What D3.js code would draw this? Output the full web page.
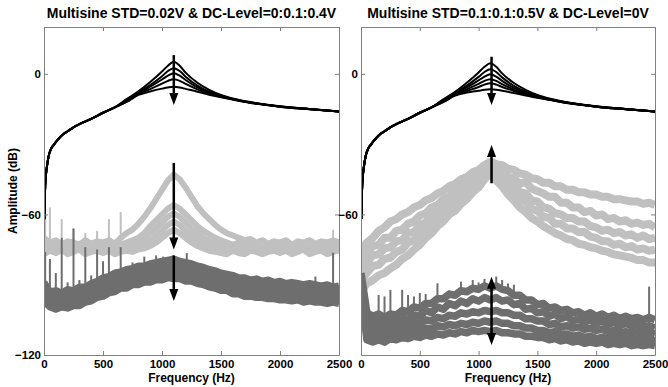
<!DOCTYPE html>
<html>
<head>
<meta charset="utf-8">
<script src="https://cdn.jsdelivr.net/npm/d3@7"></script>
<style>
  body { margin: 0; background: #fff; }
  text { font-family: "Liberation Sans", Arial, sans-serif; font-weight: bold; }
</style>
</head>
<body>
<div id="chart"></div>
<script>
// frequency grid of the measured spectra (Hz)
const freq = [0,50,100,150,200,250,300,350,400,450,500,550,600,650,700,750,800,850,900,950,
  1000,1050,1100,1150,1200,1250,1300,1350,1400,1450,1500,1550,1600,1650,1700,1750,1800,1850,1900,1950,
  2000,2050,2100,2150,2200,2250,2300,2350,2400,2450,2500];

// frequency grid of the model (black) curves
const blackFreq = [3,6,10,15,25,40,60,80,110,150,200,250,300,400,500,600,
  700,800,900,1000,1050,1100,1150,1200,1300,1400,1500,1600,1800,2000,2250,2500];
const blackLow = [-62,-54,-48,-44,-39.5,-35,-32,-30.5,-28.5,-26.3,-24.5,-22.8,-21.5,-19.2,-16.6,-14.3];

const leftBlack = [
  [...blackLow, -10.8,-7.5,-3.5,1,3.5,5.2,3.5,0.5,-3.8,-6.8,-9,-10.5,-12.5,-13.8,-15,-16.1],
  [...blackLow, -11.2,-8,-4.8,-1,1.2,2.4,1.2,-1.2,-5,-7.6,-9.4,-10.7,-12.6,-13.9,-15,-16.1],
  [...blackLow, -11.5,-8.4,-5.5,-2.4,-0.8,0.3,-0.8,-2.6,-5.8,-8,-9.6,-10.8,-12.7,-13.9,-15,-16.1],
  [...blackLow, -11.8,-8.7,-6.5,-4.2,-3,-2.3,-3,-4.3,-6.6,-8.5,-9.8,-10.9,-12.7,-14,-15.1,-16.1],
  [...blackLow, -12,-9,-7.5,-6.3,-5.8,-5.5,-5.8,-6.4,-7.6,-8.9,-10,-11,-12.8,-14,-15.1,-16.1]
];
const rightBlack = [
  [...blackLow, -10.9,-7.7,-3.8,0.6,3,4.5,3,0.2,-3.9,-6.8,-9,-10.5,-12.5,-13.8,-15,-16.1],
  [...blackLow, -11.2,-8.1,-5,-1.3,0.8,2,0.8,-1.5,-5.1,-7.6,-9.4,-10.7,-12.6,-13.9,-15,-16.1],
  [...blackLow, -11.5,-8.4,-5.8,-2.8,-1.2,-0.2,-1.2,-3,-6,-8.1,-9.6,-10.8,-12.7,-13.9,-15,-16.1],
  [...blackLow, -11.7,-8.7,-6.6,-4.3,-3,-2.3,-3,-4.4,-6.7,-8.5,-9.8,-10.9,-12.7,-14,-15.1,-16.1],
  [...blackLow, -11.9,-9,-7.3,-5.6,-4.6,-4,-4.6,-5.6,-7.3,-8.8,-10,-11,-12.8,-14,-15.1,-16.1],
  [...blackLow, -12.1,-9.3,-8,-7.2,-6.8,-6.6,-6.8,-7.2,-8.2,-9.2,-10.2,-11.1,-12.8,-14,-15.1,-16.1]
];

// left panel, light grey spectra (one per DC level)
const leftLight = [
  [-70,-72,-71,-73,-71.5,-72,-73,-71,-72.5,-71.5, -72,-71,-72.5,-70,-68,-66.5,-64,-61,-57.5,-53.5,
   -49.5,-45.5,-43,-45,-48.5,-52.5,-56.5,-59.5,-62,-64.5, -66.5,-68,-69,-70,-71,-70.5,-72,-71,-72.5,-71.5,
   -72,-71,-73,-71.5,-72,-71,-72.5,-71.5,-72,-71,-72],
  [-74,-72.5,-73.5,-72,-74,-73,-72.5,-74,-73,-72, -73.5,-72.5,-74,-73,-72,-71,-70,-68,-65,-62.5,
   -60,-57.5,-56,-57.5,-60,-62.5,-65,-67,-68.5,-70, -71,-72,-73,-72,-73.5,-72.5,-73,-74,-72.5,-73.5,
   -73,-72,-74,-73,-72.5,-74,-73,-72,-73.5,-73,-72.5],
  [-75,-73.5,-74.5,-73,-75,-74,-73,-75,-74,-73.5, -74.5,-73.5,-75,-74,-73.5,-73,-72,-70.5,-68,-66,
   -63.5,-61,-59.5,-61,-63.5,-66,-68,-70,-71.5,-72.5, -73.5,-74.5,-73.5,-75,-74,-73.5,-75,-74,-73,-74.5,
   -74,-73,-75,-74,-73.5,-75,-74,-73,-74.5,-74,-73.5],
  [-76,-74.5,-75.5,-74,-76,-75,-74,-76,-75,-74.5, -75.5,-74.5,-76,-75,-74.5,-75,-74,-73,-71.5,-69,
   -67,-64.5,-63,-64.5,-67,-69,-71,-72.5,-73.5,-74.5, -75,-76,-74.5,-75.5,-76,-74.5,-75,-76,-75,-74.5,
   -75.5,-74.5,-76,-75,-74,-76,-75,-74.5,-76,-75,-74.5],
  [-77,-75.5,-76.5,-75,-77,-76,-75,-77,-76,-75.5, -76.5,-75.5,-77,-76,-75.5,-76,-75,-74.5,-73.5,-72,
   -70,-68,-66.5,-68,-70,-72,-73.5,-74.5,-75.5,-76, -76.5,-77,-75.5,-76.5,-77,-75.5,-76,-77,-76,-75.5,
   -76.5,-75.5,-77,-76,-75,-77,-76,-75.5,-77,-76,-75.5]
];

// left panel, dark grey spectra
const leftDark = [
  [-89,-93,-92.5,-93.5,-92,-92.5,-91,-91,-89.5,-88.5, -87,-86.5,-85,-84.5,-83.5,-83,-82,-82,-81,-80.5,
   -80,-79.5,-79,-80,-80.5,-81,-82,-82.5,-83.5,-84, -85,-85.5,-86,-87,-87,-88,-87.5,-88.5,-88,-89,
   -88.5,-89.5,-89,-89.5,-90,-89.5,-90,-90.5,-90,-91,-90.5],
  [-91,-95,-94.5,-95.5,-94,-94.5,-93,-93,-91.5,-91, -89,-89,-87,-87,-85.5,-85.5,-84,-84.5,-83,-83.5,
   -82,-82.5,-81.5,-82.5,-82.5,-84,-83.5,-85.5,-85,-87, -86.5,-88,-88,-89.5,-89,-90.5,-89.5,-91,-90,-91.5,
   -90.5,-92,-91,-92,-91.5,-92.5,-91.5,-93,-92,-93,-92],
  [-93,-96.5,-96,-97,-95.5,-96,-94.5,-94.5,-92.5,-92.5, -90.5,-90.5,-88.5,-88.5,-87,-87,-85.5,-86,-84.5,-85,
   -83.5,-84,-83,-84,-84,-85,-85,-87,-86.5,-88.5, -88,-89.5,-89.5,-91,-90.5,-92,-91,-92.5,-91.5,-93,
   -92,-93.5,-92.5,-93.5,-93,-94,-93,-94.5,-93.5,-94.5,-93.5],
  [-95,-98,-97.5,-98.5,-97,-97.5,-96,-96,-94.5,-94, -92,-92,-90,-90,-88.5,-88.5,-87,-87.5,-86,-86.5,
   -85,-85.5,-84.5,-85.5,-85.5,-87,-86.5,-88.5,-88,-90, -89.5,-91,-91,-92.5,-92,-93.5,-92.5,-94,-93,-94.5,
   -93.5,-95,-94,-95,-94.5,-95.5,-94.5,-96,-95,-96,-95],
  [-97,-99.5,-100.5,-99.5,-100,-99,-99,-97.5,-97,-95.5, -95,-93.5,-93,-91.5,-91.5,-90,-90,-89,-89,-88,
   -88,-87,-87.5,-87.5,-88.5,-88.5,-89.5,-90,-91,-91.5, -92.5,-92.5,-94,-94,-95,-95,-95.5,-95.5,-96,-96,
   -96.5,-96.5,-97,-96.5,-97.5,-97,-97.5,-97.5,-98,-97.5,-98]
];

// right panel, light grey spectra (one per multisine STD)
const rightLight = [
  [-76,-72,-70,-67,-65.5,-63,-62,-60,-59,-57, -56,-54,-53,-51,-50,-48,-47,-45,-44,-42,
   -41,-39,-37.5,-38.5,-39,-40.5,-41,-42.5,-43,-44.5, -45,-46.5,-46.5,-48,-48,-49.5,-49.5,-50.5,-50.5,-51.5,
   -51.5,-52.5,-52.5,-53.5,-53.5,-54,-54.5,-54.5,-55.5,-55,-56],
  [-80,-76.5,-73.5,-73,-70,-70,-67,-66.5,-64,-63, -60.5,-59.5,-57,-56,-53.5,-52.5,-50,-49,-46.5,-45.5,
   -43,-41.5,-39,-41,-41.5,-44,-44.5,-47,-46,-49, -50,-51,-52.5,-52.5,-55,-55,-57,-57,-59,-58.5,
   -60.5,-60,-62,-61.5,-63,-62.5,-64,-63.5,-64.5,-64,-65.5],
  [-84,-80.5,-77.5,-77,-74.5,-74,-71.5,-71,-68,-67.5, -64.5,-63.5,-60.5,-59.5,-56.5,-55.5,-52.5,-51.5,-48.5,-47.5,
   -44.5,-43,-40,-42.5,-43.5,-46.5,-47.5,-50.5,-51,-54, -54.5,-57,-57.5,-59.5,-60,-61.5,-61.5,-63,-63,-65,
   -65.5,-67,-66.5,-68,-67.5,-69,-68.5,-70,-69,-70.5,-70],
  [-88,-85,-82,-81.5,-79,-78.5,-76,-75,-72,-71, -68,-67,-63.5,-62.5,-59,-58,-54.5,-53.5,-50,-49,
   -45.5,-44,-41,-44,-45.5,-49,-50.5,-53.5,-54.5,-57.5, -58.5,-61,-61.5,-64,-64,-66,-66,-67.5,-67.5,-69.5,
   -70,-71.5,-71.5,-73,-72.5,-74,-73.5,-75,-74.5,-75.5,-75],
  [-93,-89.5,-88,-86,-85,-83,-81.5,-79,-77.5,-75, -73,-70,-68,-65,-63,-60,-58.5,-55.5,-53.5,-50.5,
   -48.5,-45,-42.5,-45.5,-48,-51.5,-54,-57,-59,-61.5, -63,-65,-66.5,-68,-69,-70.5,-71,-72.5,-73,-74,
   -74.5,-75.5,-76,-77,-77.5,-78,-78.5,-79.5,-79.5,-80.5,-80.5]
];

// right panel, dark grey spectra
const rightDark = [
  [-85,-102,-103.5,-102.5,-104,-102.5,-103,-101,-101.5,-99.5, -100,-98,-98,-96,-96,-94,-94.5,-92.5,-93,-91.5,
   -92,-90.5,-91.5,-90.5,-92,-92.5,-94.5,-94.5,-96.5,-96.5, -98.5,-98,-100,-99.5,-101,-100.5,-102,-101.5,-103,-102,
   -103.5,-102.5,-104,-103,-104.5,-103.5,-104.5,-104,-105,-104,-105],
  [-87,-105.5,-106.5,-105.5,-107,-105.5,-106,-104,-105,-103, -103.5,-101,-102,-99.5,-100.5,-98,-99,-97,-98,-96,
   -97,-95.5,-96.5,-95.5,-97,-96.5,-98.5,-98,-100.5,-100, -102,-101.5,-103.5,-102.5,-104.5,-103.5,-105.5,-104.5,-106,-105,
   -106.5,-105.5,-107,-106,-107.5,-106.5,-107.5,-107,-108,-107.5,-108.5],
  [-88,-108.5,-109.5,-108.5,-109.5,-108,-108.5,-107,-107.5,-106, -106.5,-105,-105.5,-104,-104.5,-103,-103.5,-102,-102.5,-101.5,
   -102,-101,-101.5,-101,-102,-102,-103,-103,-104.5,-104.5, -105.5,-105.5,-107,-106.5,-108,-107.5,-108.5,-108,-109,-108.5,
   -109.5,-109,-110,-109.5,-110.5,-110,-110.5,-110,-111,-110.5,-111],
  [-89,-111,-112,-111,-112,-110.5,-111,-110,-110.5,-109, -109.5,-108.5,-109,-107.5,-108,-107,-107.5,-106.5,-107,-106,
   -106.5,-105.5,-106,-105.5,-106.5,-106.5,-107.5,-107.5,-108.5,-108.5, -109.5,-109.5,-110.5,-110,-111,-111,-112,-111.5,-112.5,-112,
   -113,-112.5,-113,-112.5,-113.5,-113,-113.5,-113,-114,-113.5,-114],
  [-90,-113.5,-114.5,-113.5,-114.5,-113,-113.5,-112.5,-113,-112, -112.5,-111.5,-112,-111,-111.5,-110.5,-111,-110,-110.5,-109.5,
   -110,-109.5,-110,-109.5,-110.5,-110.5,-111,-111,-112,-112, -112.5,-112.5,-113.5,-113,-114,-113.5,-114.5,-114,-115,-114.5,
   -115,-114.5,-115.5,-115,-115.5,-115,-116,-115.5,-116,-115.5,-116]
];

// harmonic spikes: [frequency, top dB, bottom dB]
const leftLightSpikes = [[10,-56,-72],[50,-57,-72],[150,-62,-72],[250,-66,-72],[350,-68,-72],[450,-67,-72],
  [550,-62,-72],[650,-59,-72],[2450,-66.5,-72]];
const leftDarkSpikes = [[10,-76,-93],[50,-79,-93],[100,-85,-94],[150,-70,-94],[200,-89,-94],[250,-66,-94],
  [300,-88,-93],[350,-74,-93],[400,-86,-92],[450,-75,-91],[500,-80,-90],[550,-74,-89],[600,-85,-88],
  [650,-74,-88],[750,-80.5,-86],[850,-78,-85],[950,-77.5,-84],[1010,-78,-84],[1210,-76.5,-84],
  [2200,-89,-93],[2300,-86.5,-93],[2450,-76.3,-93]];
const rightDarkSpikes = [[150,-94.4,-103],[200,-95,-103],[250,-92.2,-103],[350,-92.2,-101],[400,-94.4,-101],
  [450,-95,-100],[500,-93.5,-100],[550,-94,-98],[650,-89.4,-96],[750,-92.5,-94],[850,-88.7,-93],
  [950,-88,-92],[1000,-89,-92],[1050,-87.5,-91],[1150,-86.5,-91],[1200,-88,-92],[1250,-89.5,-93],
  [1300,-90,-94],[2450,-90.8,-104]];

// arrows: [frequency, from dB, to dB, double-headed]
const leftArrows = [[1100,8,-13.3,false],[1100,-38,-75,false],[1100,-77.5,-97,false]];
const rightArrows = [[1110,7.3,-13.3,false],[1110,-46.7,-30.4,false],[1110,-86.6,-115.7,true]];

const xTicks = [0,500,1000,1500,2000,2500];

const panels = [
  {title: "Multisine STD=0.02V & DC-Level=0:0.1:0.4V", x0: 44, x1: 339, yTicks: [0,-60,-120], lightWidth: 6, darkWidth: 7,
   black: leftBlack, light: leftLight, dark: leftDark, lightSpikes: leftLightSpikes, darkSpikes: leftDarkSpikes, arrows: leftArrows},
  {title: "Multisine STD=0.1:0.1:0.5V & DC-Level=0V", x0: 361, x1: 655, yTicks: [0,-60], lightWidth: 8, darkWidth: 7.5,
   black: rightBlack, light: rightLight, dark: rightDark, lightSpikes: [], darkSpikes: rightDarkSpikes, arrows: rightArrows}
];

const width = 668, height = 387, plotTop = 27, plotBottom = 355;
const lightColor = "#c0c0c0", darkColor = "#6e6e6e", axisColor = "#808080";

const svg = d3.select("#chart").append("svg")
  .attr("width", width)
  .attr("height", height);

const y = d3.scaleLinear().domain([-120, 20]).range([plotBottom, plotTop]);

panels.forEach((p, pi) => {
  const x = d3.scaleLinear().domain([0, 2500]).range([p.x0, p.x1]);

  svg.append("clipPath").attr("id", "clip" + pi)
    .append("rect")
    .attr("x", p.x0).attr("y", plotTop)
    .attr("width", p.x1 - p.x0).attr("height", plotBottom - plotTop);

  const plot = svg.append("g").attr("clip-path", `url(#clip${pi})`);

  const noisy = d3.line().x((d, i) => x(freq[i])).y(d => y(d));
  const smooth = d3.line().x((d, i) => x(blackFreq[i])).y(d => y(d)).curve(d3.curveMonotoneX);

  // spikes under the bands
  plot.append("g").attr("stroke", lightColor).attr("stroke-width", 2)
    .selectAll("line").data(p.lightSpikes).join("line")
    .attr("x1", d => x(d[0])).attr("x2", d => x(d[0]))
    .attr("y1", d => y(d[1])).attr("y2", d => y(d[2]));

  plot.append("g").attr("fill", "none").attr("stroke", lightColor)
    .attr("stroke-width", p.lightWidth).attr("stroke-linejoin", "round")
    .selectAll("path").data(p.light).join("path")
    .attr("d", noisy);

  plot.append("g").attr("stroke", darkColor).attr("stroke-width", 2)
    .selectAll("line").data(p.darkSpikes).join("line")
    .attr("x1", d => x(d[0])).attr("x2", d => x(d[0]))
    .attr("y1", d => y(d[1])).attr("y2", d => y(d[2]));

  plot.append("g").attr("fill", "none").attr("stroke", darkColor)
    .attr("stroke-width", p.darkWidth).attr("stroke-linejoin", "round")
    .selectAll("path").data(p.dark).join("path")
    .attr("d", noisy);

  plot.append("g").attr("fill", "none").attr("stroke", "#000")
    .attr("stroke-width", 2)
    .selectAll("path").data(p.black).join("path")
    .attr("d", smooth);

  // arrows
  const ag = svg.append("g").attr("fill", "#000");
  p.arrows.forEach(a => {
    const ax = x(a[0]), ya = y(a[1]), yb = y(a[2]);
    const dir = Math.sign(yb - ya);
    ag.append("line").attr("x1", ax).attr("x2", ax)
      .attr("y1", a[3] ? ya + dir * 8 : ya).attr("y2", yb - dir * 8)
      .attr("stroke", "#000").attr("stroke-width", 2.5);
    const head = (yt, s) => `M${ax},${yt}L${ax - 4.5},${yt - s * 12}L${ax + 4.5},${yt - s * 12}Z`;
    ag.append("path").attr("d", head(yb, dir));
    if (a[3]) ag.append("path").attr("d", head(ya, -dir));
  });

  // axes (box with inward ticks)
  const styleAxis = g => {
    g.select(".domain").attr("stroke", axisColor);
    g.selectAll(".tick line").attr("stroke", axisColor);
    g.selectAll(".tick text").attr("fill", "#000").attr("font-size", 11.5)
      .attr("font-family", "'Liberation Sans', Arial, sans-serif").attr("font-weight", "bold");
  };

  svg.append("g").attr("transform", `translate(0,${plotBottom})`)
    .call(d3.axisBottom(x).tickValues(xTicks).tickSize(-4).tickSizeOuter(0).tickPadding(5).tickFormat(d3.format("d")))
    .call(styleAxis);
  svg.append("g").attr("transform", `translate(0,${plotTop})`)
    .call(d3.axisTop(x).tickValues(xTicks).tickSize(-4).tickSizeOuter(0).tickFormat(""))
    .call(styleAxis);
  svg.append("g").attr("transform", `translate(${p.x0},0)`)
    .call(d3.axisLeft(y).tickValues(p.yTicks).tickSize(-4).tickSizeOuter(0).tickPadding(3).tickFormat(d3.format("d")))
    .call(styleAxis);
  svg.append("g").attr("transform", `translate(${p.x1},0)`)
    .call(d3.axisRight(y).tickValues([0,-60,-120]).tickSize(-4).tickSizeOuter(0).tickFormat(""))
    .call(styleAxis);

  svg.append("text")
    .attr("x", (p.x0 + p.x1) / 2).attr("y", 18)
    .attr("text-anchor", "middle").attr("font-size", 14)
    .text(p.title);

  svg.append("text")
    .attr("x", (p.x0 + p.x1) / 2).attr("y", 382)
    .attr("text-anchor", "middle").attr("font-size", 12)
    .text("Frequency (Hz)");
});

svg.append("text")
  .attr("transform", `translate(17,${(plotTop + plotBottom) / 2}) rotate(-90)`)
  .attr("text-anchor", "middle").attr("font-size", 12)
  .text("Amplitude (dB)");
</script>
</body>
</html>
